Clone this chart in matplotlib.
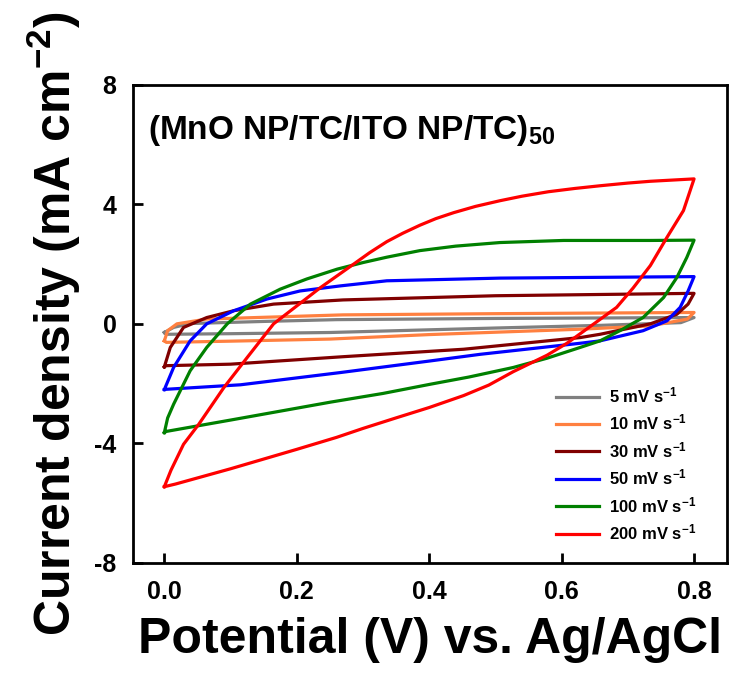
import matplotlib
matplotlib.use("Agg")
import matplotlib.pyplot as plt

matplotlib.rcParams.update({
    'font.family': 'Liberation Sans',
    'font.weight': 'bold',
    'mathtext.fontset': 'custom',
    'mathtext.rm': 'Liberation Sans:bold',
    'mathtext.it': 'Liberation Sans:bold',
    'mathtext.bf': 'Liberation Sans:bold',
    'mathtext.default': 'rm',
})

# scan rates and their loops (forward sweep 0 -> 0.8 V, then reverse back to 0)
labels = ['5 mV s$^{-1}$', '10 mV s$^{-1}$', '30 mV s$^{-1}$',
          '50 mV s$^{-1}$', '100 mV s$^{-1}$', '200 mV s$^{-1}$']
colors = ['#808080', '#ff8040', '#800000', '#0000ff', '#008000', '#ff0000']

v5 = [0, 0.014, 0.039, 0.15, 0.26, 0.5, 0.8,
      0.78, 0.66, 0.5, 0.25, 0.1, 0.003, 0]
i5 = [-0.29, -0.12, 0.01, 0.08, 0.14, 0.18, 0.21,
      0.04, -0.05, -0.14, -0.29, -0.33, -0.35, -0.29]

v10 = [0, 0.005, 0.019, 0.064, 0.27, 0.5, 0.8,
       0.79, 0.734, 0.628, 0.4, 0.25, 0.1, 0.003, 0]
i10 = [-0.57, -0.23, 0.0, 0.16, 0.3, 0.34, 0.38,
       0.16, -0.07, -0.18, -0.36, -0.51, -0.58, -0.62, -0.57]

v30 = [0, 0.009, 0.029, 0.064, 0.105, 0.165, 0.27, 0.5, 0.8,
       0.791, 0.774, 0.734, 0.658, 0.628, 0.452, 0.27, 0.1, 0.003, 0]
i30 = [-1.44, -0.79, -0.12, 0.21, 0.44, 0.66, 0.8, 0.94, 1.02,
       0.66, 0.32, 0.0, -0.35, -0.46, -0.85, -1.1, -1.35, -1.4, -1.44]

v50 = [0, 0.014, 0.039, 0.064, 0.105, 0.155, 0.205, 0.266, 0.336, 0.507, 0.8,
       0.791, 0.779, 0.759, 0.723, 0.658, 0.628, 0.477, 0.402, 0.266, 0.115, 0.003, 0]
i50 = [-2.2, -1.46, -0.57, 0.0, 0.44, 0.83, 1.1, 1.27, 1.44, 1.53, 1.58,
       1.1, 0.55, 0.1, -0.23, -0.57, -0.65, -1.02, -1.24, -1.63, -2.04, -2.19, -2.2]

v100 = [0, 0.005, 0.014, 0.039, 0.064, 0.095, 0.13, 0.175, 0.215, 0.261, 0.3,
        0.336, 0.386, 0.44, 0.507, 0.603, 0.734, 0.8,
        0.789, 0.774, 0.754, 0.723, 0.688, 0.658, 0.628, 0.578, 0.527, 0.46,
        0.402, 0.33, 0.251, 0.1, 0.003, 0]
i100 = [-3.64, -3.15, -2.69, -1.57, -0.79, 0.0, 0.66, 1.16, 1.5, 1.83, 2.05,
        2.23, 2.45, 2.6, 2.72, 2.79, 2.79, 2.8,
        2.22, 1.55, 0.88, 0.21, -0.23, -0.57, -0.79, -1.15, -1.46, -1.78,
        -2.02, -2.33, -2.62, -3.22, -3.6, -3.64]

v200 = [0, 0.01, 0.029, 0.052, 0.09, 0.125, 0.165, 0.21, 0.235, 0.286, 0.31,
        0.336, 0.36, 0.386, 0.41, 0.437, 0.47, 0.507, 0.54, 0.58, 0.62, 0.658,
        0.7, 0.734, 0.8,
        0.784, 0.759, 0.734, 0.708, 0.683, 0.655, 0.63, 0.608, 0.578, 0.527,
        0.49, 0.452, 0.4, 0.351, 0.3, 0.26, 0.2, 0.1, 0.017, 0]
i200 = [-5.45, -4.9, -4.03, -3.36, -2.13, -1.13, 0.0, 0.77, 1.2, 2.0, 2.38,
        2.75, 3.03, 3.3, 3.52, 3.72, 3.93, 4.12, 4.27, 4.42, 4.53, 4.62,
        4.71, 4.77, 4.85,
        3.79, 2.89, 1.95, 1.2, 0.55, 0.1, -0.3, -0.65, -1.05, -1.6,
        -2.05, -2.4, -2.8, -3.14, -3.5, -3.8, -4.2, -4.85, -5.36, -5.45]

volts = [v5, v10, v30, v50, v100, v200]
currents = [i5, i10, i30, i50, i100, i200]

fig = plt.figure(figsize=(7.36, 6.89), dpi=100)
ax = fig.add_axes([0.181, 0.183, 0.807, 0.694])

for v, i, c, lab in zip(volts, currents, colors, labels):
    ax.plot(v, i, color=c, lw=2.3, label=lab)

ax.set_xlim(-0.047, 0.85)
ax.set_ylim(-8, 8)
ax.set_xticks([0.0, 0.2, 0.4, 0.6, 0.8])
ax.set_xticklabels(['0.0', '0.2', '0.4', '0.6', '0.8'])
ax.set_yticks([-8, -4, 0, 4, 8])
ax.set_yticklabels(['-8', '-4', '0', '4', '8'])
ax.tick_params(direction='in', length=7, width=2, labelsize=18, pad=12)
for s in ax.spines.values():
    s.set_linewidth(2)

ax.set_xlabel('Potential (V) vs. Ag/AgCl', fontsize=36, fontweight='bold', labelpad=10)
ax.set_ylabel('Current density (mA cm$^{-2}$)', fontsize=36, fontweight='bold', labelpad=8)

ax.text(0.025, 0.94, '(MnO NP/TC/ITO NP/TC)$_{50}$', transform=ax.transAxes,
        fontsize=24, fontweight='bold', va='top', ha='left')

ax.legend(loc='upper left', bbox_to_anchor=(0.70, 0.385), frameon=False,
          prop={'size': 12, 'weight': 'bold'}, handlelength=2.6,
          handletextpad=0.6, labelspacing=0.45, borderaxespad=0)

fig.savefig('out.png', dpi=100)
